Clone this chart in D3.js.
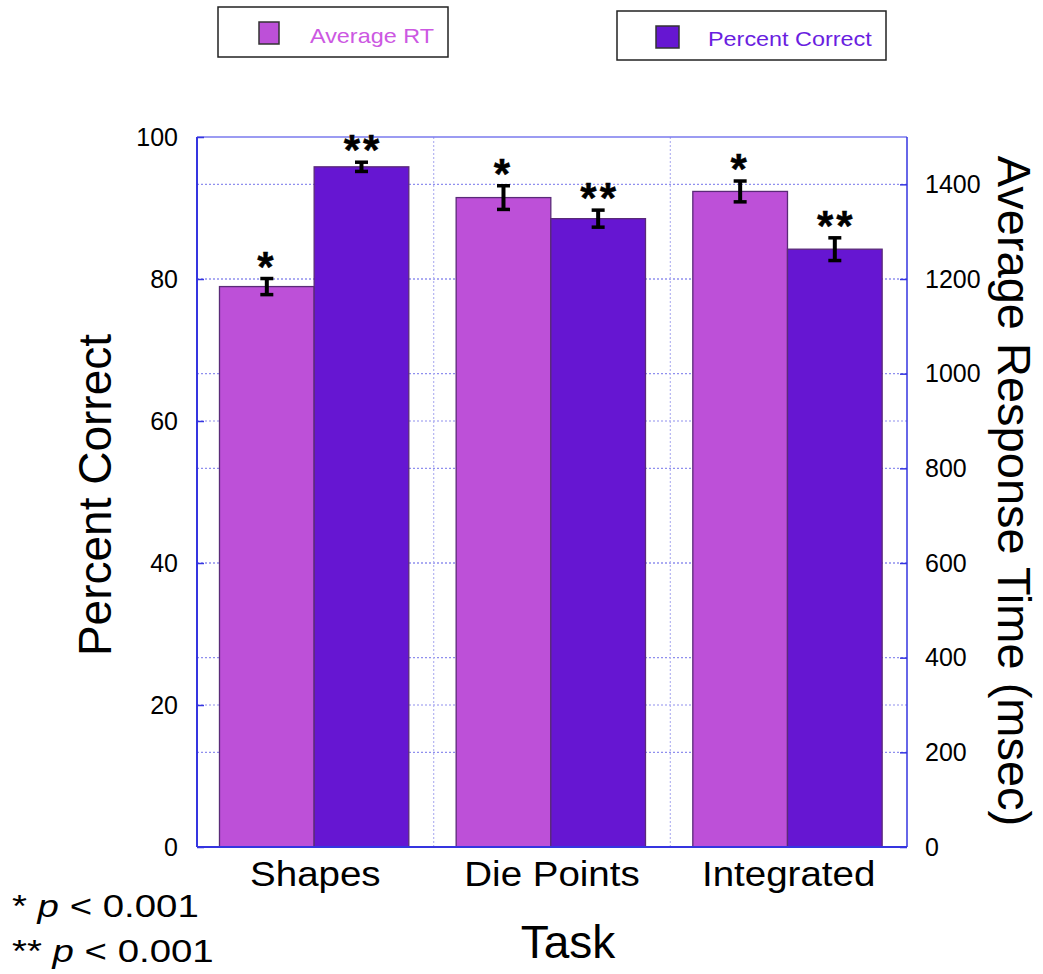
<!DOCTYPE html>
<html>
<head>
<meta charset="utf-8">
<script src="https://cdn.jsdelivr.net/npm/d3@7"></script>
<style>
  body { margin: 0; background: #fff; }
  svg text { font-family: "Liberation Sans", Arial, Helvetica, sans-serif; }
</style>
</head>
<body>
<div id="chart-container"></div>
<script>
// data
const categories = ["Shapes", "Die Points", "Integrated"];
const avgRT = [1184, 1372, 1385];
const avgRTErr = [17, 25, 22];
const pctCorrect = [95.8, 88.5, 84.2];
const pctCorrectErr = [0.65, 1.2, 1.6];
const seriesNames = ["Average RT", "Percent Correct"];
const seriesStars = ["*", "**"];
const leftTicks = [0, 20, 40, 60, 80, 100];
const rightTicks = [0, 200, 400, 600, 800, 1000, 1200, 1400];

const width = 1043,
  height = 974;
const plot = { left: 197, right: 907, top: 137, bottom: 847 };

const lightColor = "#bd50d8";
const darkColor = "#6616d2";
const frameColor = "#3535e0";
const gridColor = "#8f8fee";

const svg = d3
  .select("#chart-container")
  .append("svg")
  .attr("width", width)
  .attr("height", height);

const yLeft = d3.scaleLinear().domain([0, 100]).range([plot.bottom, plot.top]);
const yRight = d3.scaleLinear().domain([0, 1500]).range([plot.bottom, plot.top]);

const x0 = d3.scaleBand().domain(categories).range([plot.left, plot.right]);
const bw = x0.bandwidth();
const x1 = d3
  .scaleBand()
  .domain(seriesNames)
  .range([0.095 * bw, 0.895 * bw]);

// one row per bar
const bars = [];
categories.forEach((c, i) => {
  bars.push({ cat: c, series: seriesNames[0], value: avgRT[i], err: avgRTErr[i], y: yRight, color: lightColor, star: seriesStars[0] });
  bars.push({ cat: c, series: seriesNames[1], value: pctCorrect[i], err: pctCorrectErr[i], y: yLeft, color: darkColor, star: seriesStars[1] });
});
const barCenter = (d) => x0(d.cat) + x1(d.series) + x1.bandwidth() / 2;

// grid lines (both axes)
const grid = svg.append("g");
const gridYs = leftTicks
  .filter((t) => t > 0 && t < 100)
  .map((t) => yLeft(t))
  .concat(rightTicks.filter((t) => t > 0).map((t) => yRight(t)));
grid
  .selectAll("line.h")
  .data(gridYs)
  .enter()
  .append("line")
  .attr("x1", plot.left)
  .attr("x2", plot.right)
  .attr("y1", (d) => d)
  .attr("y2", (d) => d)
  .attr("stroke", gridColor)
  .attr("stroke-width", 1.2)
  .attr("stroke-dasharray", "2,2");
grid
  .selectAll("line.v")
  .data(categories.slice(1))
  .enter()
  .append("line")
  .attr("x1", (d) => x0(d))
  .attr("x2", (d) => x0(d))
  .attr("y1", plot.top)
  .attr("y2", plot.bottom)
  .attr("stroke", "#b5b5f2")
  .attr("stroke-width", 1.2)
  .attr("stroke-dasharray", "2,2");

// bars
svg
  .selectAll("rect.bar")
  .data(bars)
  .enter()
  .append("rect")
  .attr("class", "bar")
  .attr("x", (d) => x0(d.cat) + x1(d.series))
  .attr("width", x1.bandwidth())
  .attr("y", (d) => d.y(d.value))
  .attr("height", (d) => plot.bottom - d.y(d.value))
  .attr("fill", (d) => d.color)
  .attr("stroke", "#5a2a78")
  .attr("stroke-width", 1.3);

// frame
svg
  .append("line")
  .attr("x1", plot.left)
  .attr("x2", plot.right)
  .attr("y1", plot.top)
  .attr("y2", plot.top)
  .attr("stroke", "#7a7aee")
  .attr("stroke-width", 1.5);
svg
  .append("line")
  .attr("x1", plot.right)
  .attr("x2", plot.right)
  .attr("y1", plot.top)
  .attr("y2", plot.bottom)
  .attr("stroke", frameColor)
  .attr("stroke-width", 1.5);
svg
  .append("line")
  .attr("x1", plot.left)
  .attr("x2", plot.left)
  .attr("y1", plot.top)
  .attr("y2", plot.bottom)
  .attr("stroke", frameColor)
  .attr("stroke-width", 2);
svg
  .append("line")
  .attr("x1", plot.left)
  .attr("x2", plot.right)
  .attr("y1", plot.bottom)
  .attr("y2", plot.bottom)
  .attr("stroke", frameColor)
  .attr("stroke-width", 2);

// axes (ticks point inward)
const leftAxis = svg
  .append("g")
  .attr("transform", `translate(${plot.left},0)`)
  .call(d3.axisLeft(yLeft).tickValues(leftTicks).tickSize(-7).tickPadding(19));
const rightAxis = svg
  .append("g")
  .attr("transform", `translate(${plot.right},0)`)
  .call(
    d3
      .axisRight(yRight)
      .tickValues(rightTicks)
      .tickFormat(d3.format("d"))
      .tickSize(-7)
      .tickPadding(18)
  );
[leftAxis, rightAxis].forEach((ax) => {
  ax.select(".domain").remove();
  ax.selectAll(".tick line").attr("stroke", frameColor).attr("stroke-width", 1.5);
  ax.selectAll(".tick text")
    .attr("fill", "#000")
    .style("font-size", "25px")
    .style("font-family", '"Liberation Sans", Arial, sans-serif');
});

// error bars
const eb = svg.append("g");
eb.selectAll("line.stem")
  .data(bars)
  .enter()
  .append("line")
  .attr("x1", barCenter)
  .attr("x2", barCenter)
  .attr("y1", (d) => d.y(d.value + d.err))
  .attr("y2", (d) => d.y(d.value - d.err))
  .attr("stroke", "#000")
  .attr("stroke-width", 4);
["hi", "lo"].forEach((k) => {
  eb.selectAll("line.cap-" + k)
    .data(bars)
    .enter()
    .append("line")
    .attr("x1", (d) => barCenter(d) - 6.5)
    .attr("x2", (d) => barCenter(d) + 6.5)
    .attr("y1", (d) => d.y(k === "hi" ? d.value + d.err : d.value - d.err))
    .attr("y2", (d) => d.y(k === "hi" ? d.value + d.err : d.value - d.err))
    .attr("stroke", "#000")
    .attr("stroke-width", 3.5);
});

// significance stars
svg
  .selectAll("text.star")
  .data(bars)
  .enter()
  .append("text")
  .attr("class", "star")
  .attr("x", (d) => barCenter(d) + (d.star.length > 1 ? 1.5 : 0))
  .attr("y", (d) => d.y(d.value + d.err) + 2)
  .attr("text-anchor", "middle")
  .attr("font-size", "42px")
  .attr("font-weight", "bold")
  .attr("letter-spacing", "3px")
  .attr("stroke", "#000")
  .attr("stroke-width", 0.4)
  .text((d) => d.star);

// category labels (slightly wide, like the original)
svg
  .selectAll("text.cat")
  .data(categories)
  .enter()
  .append("text")
  .attr("class", "cat")
  .attr("transform", (d) => `translate(${x0(d) + bw / 2},886) scale(1.1,1)`)
  .attr("text-anchor", "middle")
  .attr("font-size", "35px")
  .text((d) => d);

// axis titles
svg
  .append("text")
  .attr("transform", "translate(111,495) rotate(-90)")
  .attr("text-anchor", "middle")
  .attr("font-size", "46px")
  .text("Percent Correct");
svg
  .append("text")
  .attr("transform", "translate(998,491) rotate(90)")
  .attr("text-anchor", "middle")
  .attr("font-size", "47px")
  .text("Average Response Time (msec)");
svg
  .append("text")
  .attr("x", 568)
  .attr("y", 958)
  .attr("text-anchor", "middle")
  .attr("font-size", "46px")
  .text("Task");

// footnotes
[["* ", 917], ["** ", 962]].forEach(([s, y]) => {
  const t = svg
    .append("text")
    .attr("transform", `translate(12,${y}) scale(1.2,1)`)
    .attr("font-size", "32px");
  t.append("tspan").text(s);
  t.append("tspan").attr("font-style", "italic").text("p");
  t.append("tspan").text(" < 0.001");
});

// legend boxes
const legendItems = [
  { name: seriesNames[0], color: lightColor, text: "#cc58e2", box: [218, 7, 230, 50], sw: [259, 22, 20, 22], tx: 310, ty: 43 },
  { name: seriesNames[1], color: darkColor, text: "#6a1ee0", box: [617, 11, 269, 49], sw: [656, 26, 23, 22], tx: 708, ty: 46 },
];
legendItems.forEach((it) => {
  svg
    .append("rect")
    .attr("x", it.box[0])
    .attr("y", it.box[1])
    .attr("width", it.box[2])
    .attr("height", it.box[3])
    .attr("fill", "#fff")
    .attr("stroke", "#222")
    .attr("stroke-width", 1.5);
  svg
    .append("rect")
    .attr("x", it.sw[0])
    .attr("y", it.sw[1])
    .attr("width", it.sw[2])
    .attr("height", it.sw[3])
    .attr("fill", it.color)
    .attr("stroke", "#333")
    .attr("stroke-width", 1.5);
  svg
    .append("text")
    .attr("transform", `translate(${it.tx},${it.ty}) scale(1.17,1)`)
    .attr("font-size", "20px")
    .attr("fill", it.text)
    .text(it.name);
});
</script>
</body>
</html>
